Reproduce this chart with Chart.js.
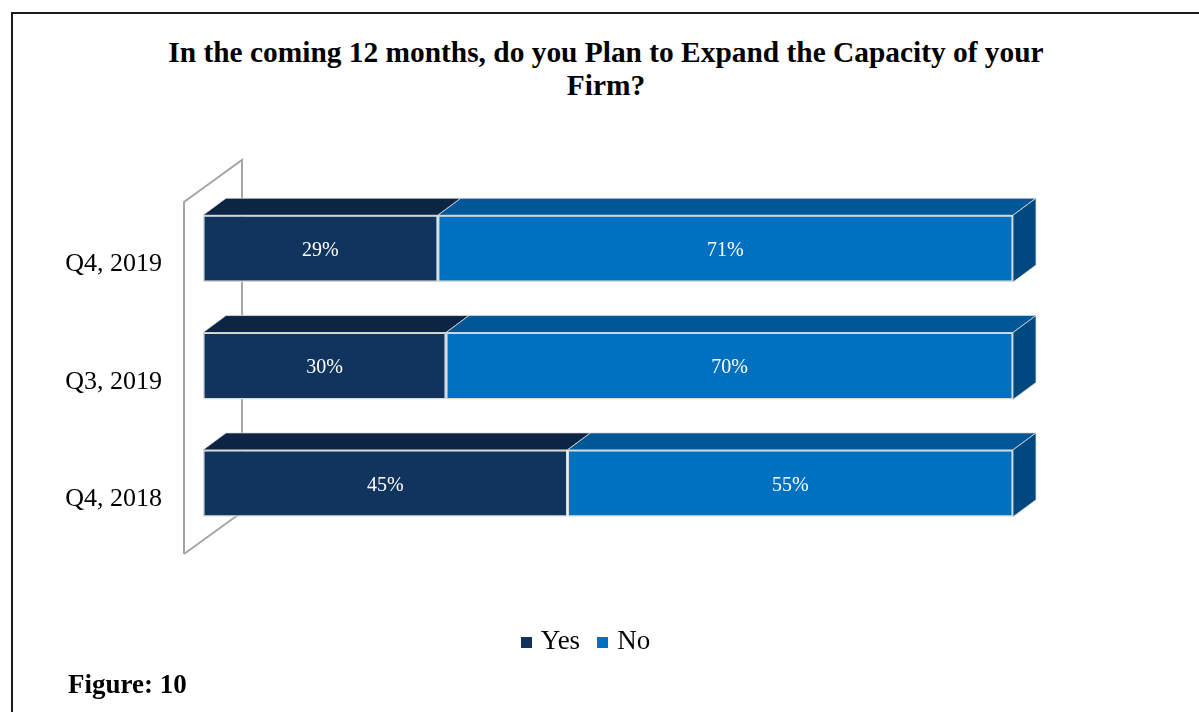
<!DOCTYPE html>
<html>
<head>
<meta charset="utf-8">
<script src="https://cdn.jsdelivr.net/npm/chart.js@4/dist/chart.umd.min.js"></script>
<style>
  html, body { margin: 0; padding: 0; background: #fff; }
  body { width: 1199px; height: 712px; position: relative; overflow: hidden; font-family: "Liberation Serif", "Times New Roman", serif; }
  #frame { position: absolute; left: 11px; top: 12px; width: 1300px; height: 800px; border-top: 2px solid #1c1c1c; border-left: 2px solid #1c1c1c; }
  #title { position: absolute; left: 12px; width: 1188px; top: 36px; text-align: center; font-weight: bold; font-size: 29.4px; line-height: 33px; color: #000; }
  #chartWrap { position: absolute; left: 0; top: 0; width: 1199px; height: 712px; }
  #legend { position: absolute; left: 0; width: 1171px; top: 625px; text-align: center; font-size: 27px; line-height: 30px; color: #000; white-space: nowrap; }
  #legend span.sw { display: inline-block; width: 11px; height: 11px; margin-right: 9px; vertical-align: 1px; }
  #legend span.item { margin: 0 8.5px; }
  #figure { position: absolute; left: 68px; top: 669px; font-weight: bold; font-size: 27px; line-height: 30px; color: #000; }
</style>
</head>
<body>
<div id="frame"></div>
<div id="title">In the coming 12 months, do you Plan to Expand the Capacity of your<br>Firm?</div>
<div id="chartWrap"><canvas id="chart" width="1199" height="712"></canvas></div>
<div id="legend"></div>
<div id="figure">Figure: 10</div>
<script>
const categories = ["Q4, 2019", "Q3, 2019", "Q4, 2018"]
const yesValues = [29, 30, 45]
const noValues = [71, 70, 55]
const seriesNames = ["Yes", "No"]

const frontColors = ["#11345E", "#0070C0"]
const topColors = ["#0D2545", "#005797"]
const sideColor = "#00487F"
const depth = { dx: 23, dy: -17 }

const legendEl = document.getElementById("legend")
seriesNames.forEach((name, i) => {
  const item = document.createElement("span")
  item.className = "item"
  item.innerHTML = `<span class="sw" style="background:${frontColors[i]}"></span>${name}`
  legendEl.appendChild(item)
})

function poly(ctx, pts, fill, stroke) {
  ctx.beginPath()
  ctx.moveTo(pts[0][0], pts[0][1])
  pts.slice(1).forEach((p) => ctx.lineTo(p[0], p[1]))
  ctx.closePath()
  ctx.fillStyle = fill
  ctx.fill()
  if (stroke) {
    ctx.strokeStyle = stroke
    ctx.lineWidth = 1
    ctx.stroke()
  }
}

// back wall of the category axis plus 3D tops and sides of the bars
const bars3d = {
  id: "bars3d",
  beforeDatasetsDraw(chart) {
    const ctx = chart.ctx
    const area = chart.chartArea
    ctx.save()
    const fx = area.left - 19
    const top = area.top + 12
    const bottom = area.bottom + 12
    const wx = 58, wy = -42
    ctx.strokeStyle = "#A6A6A6"
    ctx.lineWidth = 2
    ctx.beginPath()
    ctx.moveTo(fx, bottom)
    ctx.lineTo(fx, top)
    ctx.lineTo(fx + wx, top + wy)
    ctx.lineTo(fx + wx, bottom + wy)
    ctx.lineTo(fx, bottom)
    ctx.stroke()

    chart.data.datasets.forEach((ds, di) => {
      const meta = chart.getDatasetMeta(di)
      meta.data.forEach((bar) => {
        const t = bar.y - bar.height / 2
        const l = Math.min(bar.base, bar.x)
        const r = Math.max(bar.base, bar.x)
        poly(ctx, [[l, t], [r, t], [r + depth.dx, t + depth.dy], [l + depth.dx, t + depth.dy]], topColors[di], "rgba(220,220,220,0.8)")
        if (di === chart.data.datasets.length - 1) {
          const b = bar.y + bar.height / 2
          poly(ctx, [[r, t], [r + depth.dx, t + depth.dy], [r + depth.dx, b + depth.dy], [r, b]], sideColor, "rgba(220,220,220,0.8)")
        }
      })
    })
    ctx.restore()
  },
  afterDatasetsDraw(chart) {
    const ctx = chart.ctx
    ctx.save()
    ctx.fillStyle = "#fff"
    ctx.font = '20px "Liberation Serif", serif'
    ctx.textAlign = "center"
    ctx.textBaseline = "middle"
    chart.data.datasets.forEach((ds, di) => {
      const meta = chart.getDatasetMeta(di)
      meta.data.forEach((bar, i) => {
        ctx.fillText(ds.data[i] + "%", (bar.x + bar.base) / 2, bar.y + 2)
      })
    })
    ctx.restore()
  }
}

new Chart(document.getElementById("chart"), {
  type: "bar",
  data: {
    labels: categories,
    datasets: [
      { label: seriesNames[0], data: yesValues, backgroundColor: frontColors[0] },
      { label: seriesNames[1], data: noValues, backgroundColor: frontColors[1] }
    ]
  },
  options: {
    indexAxis: "y",
    responsive: false,
    animation: false,
    layout: { padding: { left: 0, right: 186, top: 190, bottom: 170 } },
    datasets: {
      bar: {
        borderColor: "#D9D9D9",
        borderWidth: 1.5,
        borderSkipped: false,
        categoryPercentage: 1,
        barPercentage: 0.57
      }
    },
    plugins: {
      legend: { display: false },
      tooltip: { enabled: false }
    },
    scales: {
      x: { stacked: true, min: 0, max: 100, display: false },
      y: {
        stacked: true,
        grid: { display: false },
        border: { display: false },
        ticks: {
          color: "#000",
          font: { family: '"Liberation Serif", serif', size: 26 },
          padding: 33,
          labelOffset: 16
        },
        afterFit(scale) {
          scale.width = 203
        }
      }
    }
  },
  plugins: [bars3d]
})
</script>
</body>
</html>
